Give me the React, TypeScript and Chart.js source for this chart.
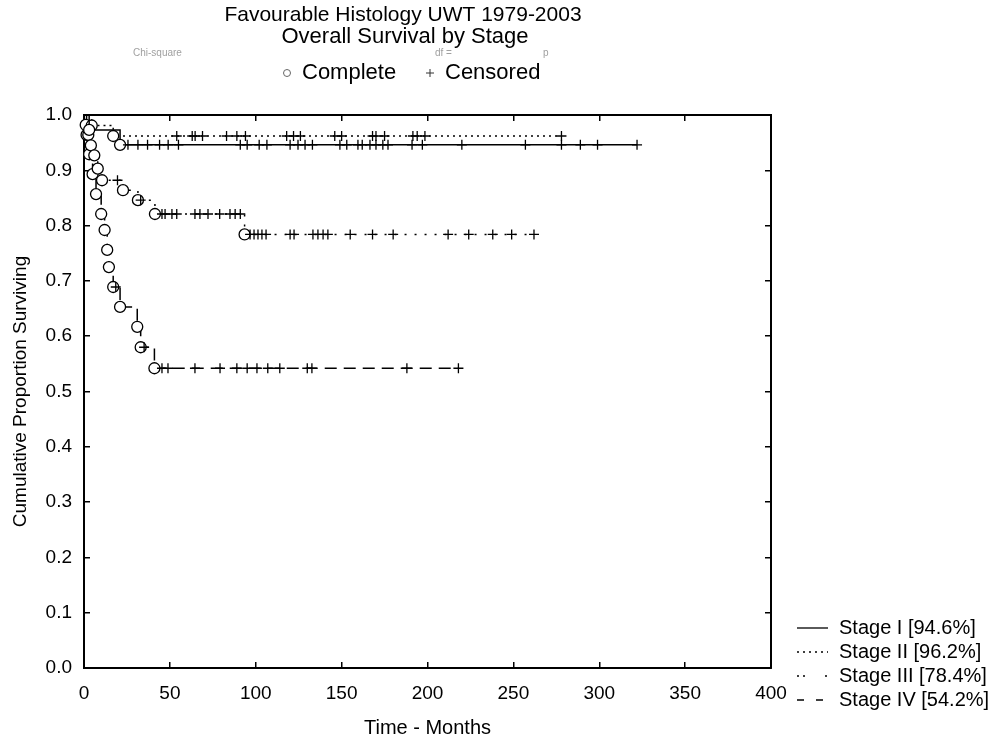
import React, { useEffect, useRef } from 'react';
import { Chart, registerables } from 'chart.js';

Chart.register(...registerables);

// ---------------- Data ----------------
const TITLE_LINES = ['Favourable Histology UWT 1979-2003', 'Overall Survival by Stage'];
const KEY_LABELS = ['Complete', 'Censored'];
const X_TITLE = 'Time - Months';
const Y_TITLE = 'Cumulative Proportion Surviving';
const X_MIN = 0;
const X_MAX = 400;
const X_STEP = 50;
const Y_MIN = 0;
const Y_MAX = 1;
const Y_STEP = 0.1;

const STAGE_LABELS = ['Stage I [94.6%]', 'Stage II [96.2%]', 'Stage III [78.4%]', 'Stage IV [54.2%]'];

// Stage I
const STAGE1_EVENT_T = [3, 21];
const STAGE1_EVENT_S = [0.973, 0.946];
const STAGE1_CENSOR_T = [25.6, 31.4, 37, 44, 49, 55, 91, 95, 102, 106.5, 120, 124.6, 128.7, 133, 149, 153, 159.5, 162, 166.5, 170, 174, 177, 191, 197, 220, 257, 278, 289, 299, 322];

// Stage II
const STAGE2_EVENT_T = [4.5, 17];
const STAGE2_EVENT_S = [0.981, 0.962];
const STAGE2_CENSOR_T = [54, 63, 64.7, 69, 83, 89, 94, 118, 122, 126, 146, 150, 168, 170, 175, 191.5, 194, 198.5, 278];

// Stage III
const STAGE3_EVENT_T = [1, 2.5, 4, 6, 8, 10.5, 22.7, 31.4, 41.3, 93.5];
const STAGE3_EVENT_S = [0.982, 0.964, 0.945, 0.927, 0.903, 0.882, 0.864, 0.846, 0.821, 0.784];
const STAGE3_CENSOR_T = [19.5, 33, 45.4, 47.2, 51.2, 54, 64.6, 67.5, 72.2, 79, 85, 88, 91, 96.7, 99, 101.3, 103.6, 106, 120, 122.3, 133.3, 136.2, 139.2, 142, 155, 168, 180, 212, 224, 238, 249, 262];

// Stage IV
const STAGE4_EVENT_T = [1.5, 3, 5, 7, 10, 12, 13.5, 14.5, 17, 21, 31, 33, 41];
const STAGE4_EVENT_S = [0.964, 0.929, 0.893, 0.857, 0.821, 0.792, 0.756, 0.725, 0.689, 0.653, 0.617, 0.58, 0.542];
const STAGE4_CENSOR_T = [18.5, 35, 45.4, 48.9, 64.6, 79.2, 89, 95, 100.7, 107, 114, 130, 132.7, 188, 218];

// ---------------- Styles ----------------
const FONT_FAMILY = '"Liberation Sans", Arial, Helvetica, sans-serif';
const LINE_DASHES = [[], [2, 4], [2, 8], [12, 7]];
const LEGEND_DASHES = [[], [2, 4], [2, 4, 2, 20], [7, 12]];

type Pt = { x: number; y: number; kind: string };

function buildPoints(evT: number[], evS: number[], cenT: number[]): Pt[] {
  const items = [
    ...evT.map((t, i) => ({ t, kind: 'event', s: evS[i] })),
    ...cenT.map((t) => ({ t, kind: 'censor', s: NaN })),
  ].sort((a, b) => a.t - b.t || (a.kind === 'event' ? -1 : 1));
  const pts: Pt[] = [{ x: 0, y: 1, kind: 'start' }];
  let cur = 1;
  for (const it of items) {
    if (it.kind === 'event') cur = it.s;
    pts.push({ x: it.t, y: cur, kind: it.kind });
  }
  return pts;
}

const overlayPlugin = {
  id: 'overlay',
  afterDraw(chart: any) {
    const c: CanvasRenderingContext2D = chart.ctx;
    c.save();
    c.fillStyle = '#000';
    c.textBaseline = 'middle';

    // Titles
    c.textAlign = 'center';
    c.font = `21px ${FONT_FAMILY}`;
    c.fillText(TITLE_LINES[0], 403, 15);
    c.font = `22px ${FONT_FAMILY}`;
    c.fillText(TITLE_LINES[1], 405, 37);

    // faint statistics line
    c.font = `10px ${FONT_FAMILY}`;
    c.fillStyle = '#a0a0a0';
    c.textAlign = 'left';
    c.fillText('Chi-square', 133, 53);
    c.fillText('df =', 435, 53);
    c.fillText('p', 543, 53);

    // Complete / Censored key
    c.fillStyle = '#000';
    c.strokeStyle = '#666';
    c.lineWidth = 1;
    c.beginPath();
    c.arc(287, 73, 3.5, 0, Math.PI * 2);
    c.stroke();
    c.font = `22px ${FONT_FAMILY}`;
    c.textAlign = 'left';
    c.fillText(KEY_LABELS[0], 302, 73);
    c.strokeStyle = '#333';
    c.beginPath();
    c.moveTo(426, 73);
    c.lineTo(434, 73);
    c.moveTo(430, 69);
    c.lineTo(430, 77);
    c.stroke();
    c.fillText(KEY_LABELS[1], 445, 73);

    // Legend
    const rows = [628, 652, 676, 700];
    c.font = `20px ${FONT_FAMILY}`;
    chart.data.datasets.forEach((ds: any, i: number) => {
      const y = rows[i];
      c.strokeStyle = '#000';
      c.lineWidth = 1.3;
      c.setLineDash(LEGEND_DASHES[i]);
      c.beginPath();
      c.moveTo(797, y);
      c.lineTo(828, y);
      c.stroke();
      c.setLineDash([]);
      c.fillText(ds.label, 839, y);
    });
    c.restore();
  },
};

export default function App() {
  const ref = useRef<HTMLCanvasElement | null>(null);

  useEffect(() => {
    if (!ref.current) return;
    const stages = [
      buildPoints(STAGE1_EVENT_T, STAGE1_EVENT_S, STAGE1_CENSOR_T),
      buildPoints(STAGE2_EVENT_T, STAGE2_EVENT_S, STAGE2_CENSOR_T),
      buildPoints(STAGE3_EVENT_T, STAGE3_EVENT_S, STAGE3_CENSOR_T),
      buildPoints(STAGE4_EVENT_T, STAGE4_EVENT_S, STAGE4_CENSOR_T),
    ];
    const tickFont = { family: FONT_FAMILY, size: 19 };
    const titleFont = { family: FONT_FAMILY, size: 20 };
    const chart = new Chart(ref.current, {
      type: 'line',
      data: {
        datasets: stages.map((pts, i) => ({
          label: STAGE_LABELS[i],
          data: pts,
          borderColor: '#000',
          borderWidth: 1.5,
          borderDash: LINE_DASHES[i],
          stepped: true,
          fill: false,
          clip: false,
          pointStyle: (ctx: any) => (ctx.raw && ctx.raw.kind === 'censor' ? 'cross' : 'circle'),
          pointRadius: (ctx: any) => (ctx.raw && ctx.raw.kind === 'start' ? 0 : ctx.raw && ctx.raw.kind === 'censor' ? 5 : 5.5),
          pointBorderColor: '#000',
          pointBackgroundColor: '#fff',
          pointBorderWidth: 1.3,
        })) as any,
      },
      options: {
        animation: false,
        responsive: false,
        maintainAspectRatio: false,
        devicePixelRatio: 1,
        events: [],
        layout: { padding: { left: 0, right: 232, top: 115, bottom: 0 } },
        plugins: {
          legend: { display: false },
          title: { display: false },
          tooltip: { enabled: false },
        },
        scales: {
          x: {
            type: 'linear',
            position: 'bottom',
            min: X_MIN,
            max: X_MAX,
            ticks: { stepSize: X_STEP, font: tickFont, color: '#000', padding: 20, maxRotation: 0, autoSkip: false },
            grid: { drawOnChartArea: false, tickLength: -6, color: '#000', lineWidth: 1.5 },
            border: { color: '#000', width: 2 },
            title: { display: true, text: X_TITLE, font: titleFont, color: '#000', padding: { top: 0, bottom: 5 } },
            afterFit: (s: any) => { s.height = 77; },
          },
          x2: {
            type: 'linear',
            position: 'top',
            min: X_MIN,
            max: X_MAX,
            ticks: { stepSize: X_STEP, display: false },
            grid: { drawOnChartArea: false, tickLength: -6, color: '#000', lineWidth: 1.5 },
            border: { color: '#000', width: 2 },
            afterFit: (s: any) => { s.height = 0; },
          },
          y: {
            type: 'linear',
            position: 'left',
            min: Y_MIN,
            max: Y_MAX,
            ticks: {
              stepSize: Y_STEP,
              font: tickFont,
              color: '#000',
              padding: 18,
              callback: (v: any) => Number(v).toFixed(1),
            },
            grid: { drawOnChartArea: false, tickLength: -6, color: '#000', lineWidth: 1.5 },
            border: { color: '#000', width: 2 },
            title: { display: true, text: Y_TITLE, font: tickFont, color: '#000', padding: { top: 9, bottom: 0 } },
            afterFit: (s: any) => { s.width = 84; },
          },
          y2: {
            type: 'linear',
            position: 'right',
            min: Y_MIN,
            max: Y_MAX,
            ticks: { stepSize: Y_STEP, display: false },
            grid: { drawOnChartArea: false, tickLength: -6, color: '#000', lineWidth: 1.5 },
            border: { color: '#000', width: 2 },
            afterFit: (s: any) => { s.width = 0; },
          },
        },
      } as any,
      plugins: [overlayPlugin],
    });
    return () => chart.destroy();
  }, []);

  return (
    <div style={{ position: 'fixed', left: 0, top: 0, width: 1003, height: 745, background: '#fff' }}>
      <canvas ref={ref} width={1003} height={745} style={{ display: 'block' }} />
    </div>
  );
}
